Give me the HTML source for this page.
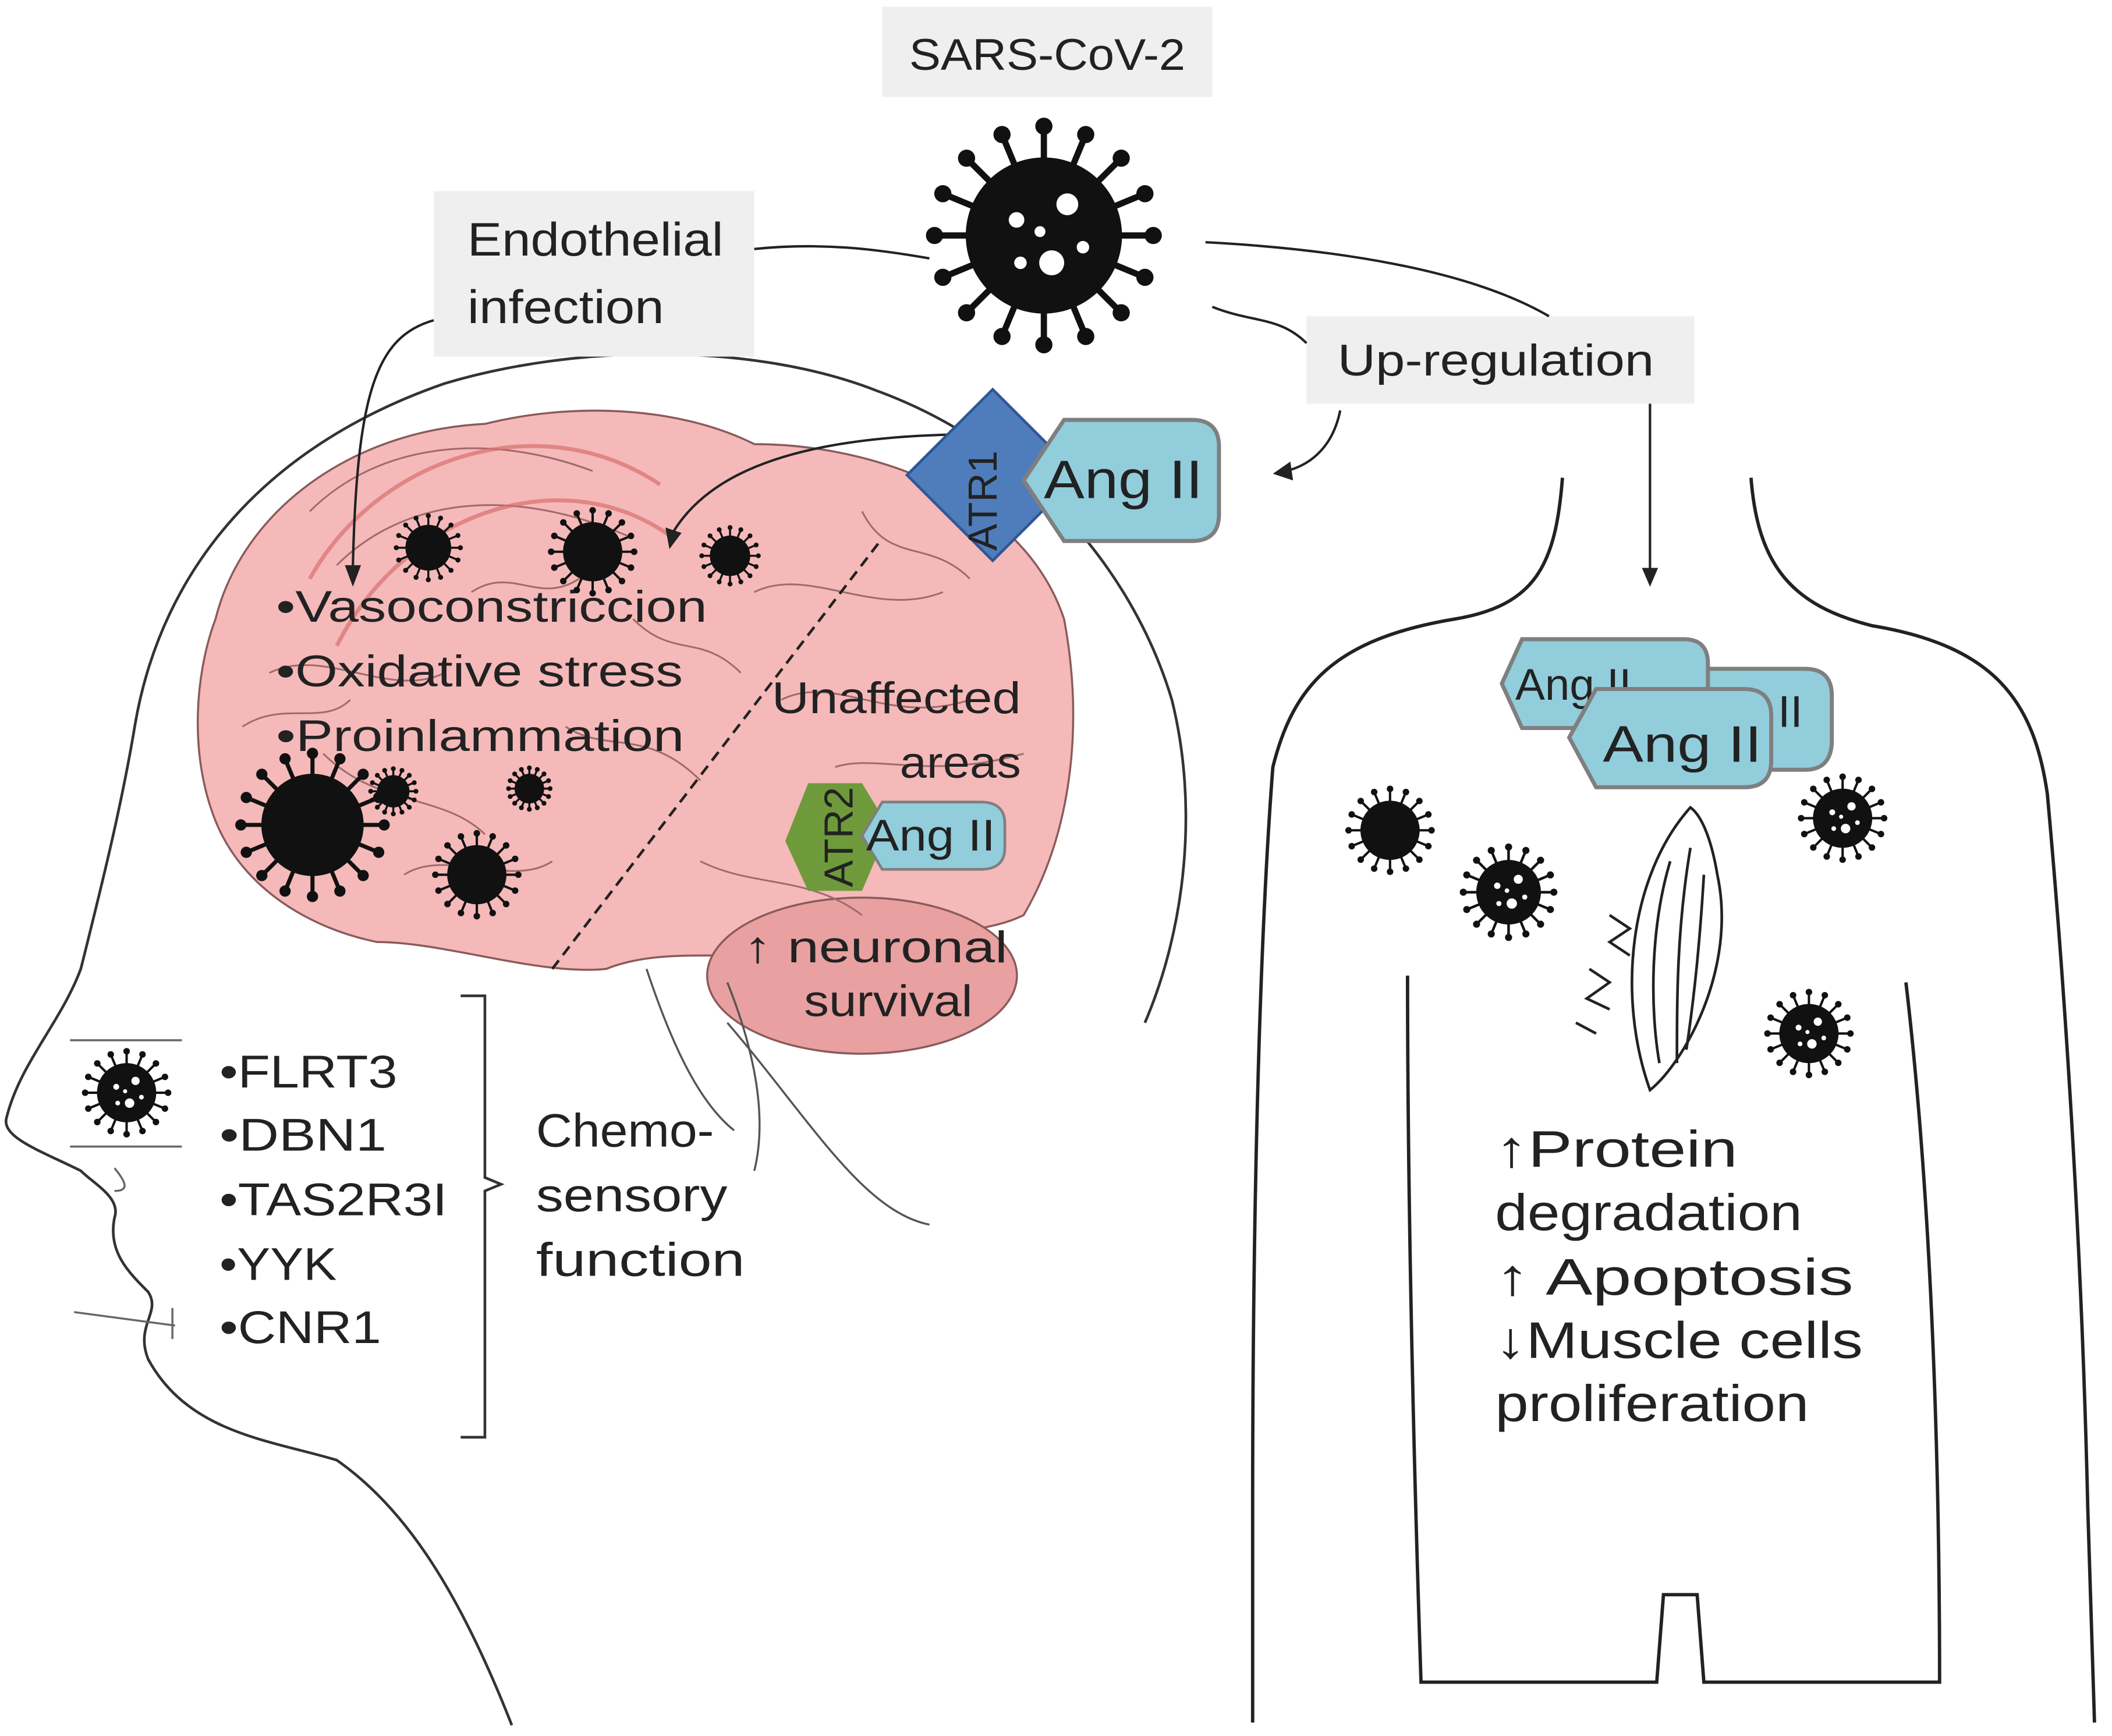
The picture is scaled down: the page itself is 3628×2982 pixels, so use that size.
<!DOCTYPE html>
<html><head><meta charset="utf-8">
<style>
html,body{margin:0;padding:0;background:#fff;}
svg{display:block;}
text{font-family:"Liberation Sans","DejaVu Sans",sans-serif;fill:#222;}
</style></head>
<body>
<svg id="fig" width="3628" height="2982" viewBox="0 0 1568 1290" preserveAspectRatio="none" xmlns="http://www.w3.org/2000/svg">
<rect width="1568" height="1290" fill="#fff"/>
<path d="M380,1282 C340,1180 300,1120 250,1085 C200,1070 140,1065 110,1010 C100,985 120,975 110,960 C95,945 80,930 85,905 C90,890 70,880 60,870 C30,855 0,845 5,830 C15,790 45,760 60,720 C75,660 90,600 100,540 C120,420 200,330 330,285 C430,255 560,255 650,290 C760,330 840,420 870,520 C890,600 880,690 850,760" fill="none" stroke="#333" stroke-width="2"/>
<path d="M540,760 C600,830 640,900 690,910 M480,720 C500,780 520,820 545,840" fill="none" stroke="#555" stroke-width="1.5"/>
<path d="M52,852 L135,852 M52,773 L135,773 M85,868 C95,880 95,885 85,885 M55,975 L130,985 M128,972 L128,995" fill="none" stroke="#666" stroke-width="1.5"/>
<path d="M160,460 C180,380 260,320 360,315 C420,300 500,300 560,330 C650,330 760,370 790,460 C805,540 795,620 760,680 C720,700 650,690 600,700 C560,720 500,700 450,720 C400,725 330,700 280,700 C230,690 180,660 160,610 C140,560 145,500 160,460Z" fill="#f5b9b9" stroke="#8a5a5a" stroke-width="1.5"/>
<ellipse cx="640" cy="725" rx="115" ry="58" fill="#e8a0a0" stroke="#8a5a5a" stroke-width="1.5"/>
<path d="M230,380 C280,330 360,320 440,350 M250,420 C300,370 380,360 470,400 M200,500 C240,480 290,520 330,500 M240,560 C280,600 330,590 360,620 M420,540 C450,560 480,540 520,580 M560,440 C600,420 650,460 700,440 M580,520 C620,500 660,540 720,520 M520,640 C560,660 600,650 640,680 M300,650 C330,630 380,660 410,640 M470,460 C500,490 520,470 550,500 M640,380 C660,420 690,400 720,430 M180,540 C210,520 240,540 260,520 M620,570 C650,560 690,580 760,560 M350,440 C380,420 400,450 430,430" fill="none" stroke="#a06a6a" stroke-width="1.3"/>
<path d="M230,430 C280,340 400,300 490,360 M250,480 C300,380 420,340 500,400" fill="none" stroke="#d9706f" stroke-width="3" opacity="0.7"/>
<line x1="410" y1="720" x2="655" y2="400" stroke="#222" stroke-width="2" stroke-dasharray="8,5"/>
<path d="M540,730 C560,780 570,830 560,870" fill="none" stroke="#555" stroke-width="1.5"/>
<rect x="655" y="5" width="245" height="67" fill="#efefef"/>
<text x="675" y="52" font-size="33" textLength="205" lengthAdjust="spacingAndGlyphs">SARS-CoV-2</text>
<rect x="322" y="142" width="238" height="123" fill="#efefef"/>
<text x="347" y="190" font-size="35" textLength="190" lengthAdjust="spacingAndGlyphs">Endothelial</text>
<text x="347" y="240" font-size="35" textLength="146" lengthAdjust="spacingAndGlyphs">infection</text>
<rect x="970" y="235" width="288" height="65" fill="#efefef"/>
<text x="993" y="279" font-size="33" textLength="235" lengthAdjust="spacingAndGlyphs">Up-regulation</text>
<g fill="none" stroke="#222" stroke-width="1.8">
<path d="M560,185 C610,180 650,185 690,192"/>
<path d="M322,238 C280,250 265,290 262,420"/>
<path d="M895,180 C990,185 1090,200 1150,235"/>
<path d="M900,228 C930,240 950,235 970,255"/>
<path d="M995,305 C990,330 975,345 955,350"/>
<path d="M770,323 C650,320 540,330 500,395"/>
<path d="M1225,300 L1225,425"/>
</g>
<g fill="#222">
<path d="M256,420 L268,420 L262,436Z"/>
<path d="M494,392 L506,396 L497,408Z"/>
<path d="M958,343 L960,357 L945,352Z"/>
<path d="M1219,422 L1231,422 L1225,436Z"/>
</g>
<rect x="692" y="308" width="90" height="90" transform="rotate(45 737 353)" fill="#4f7dbb" stroke="#2f5597" stroke-width="2"/>
<text x="748" y="372" font-size="30" transform="rotate(-90 748 372)" text-anchor="middle" dy="-8">ATR1</text>
<path d="M790,312 L885,312 Q905,312 905,332 L905,382 Q905,402 885,402 L790,402 L760,357Z" fill="#92cddc" stroke="#7f7f7f" stroke-width="3"/>
<text x="775" y="370" font-size="40" textLength="118" lengthAdjust="spacingAndGlyphs">Ang II</text>
<g font-size="33">
<text x="205" y="462" textLength="320" lengthAdjust="spacingAndGlyphs">•Vasoconstriccion</text>
<text x="205" y="510" textLength="302" lengthAdjust="spacingAndGlyphs">•Oxidative stress</text>
<text x="205" y="558" textLength="303" lengthAdjust="spacingAndGlyphs">•Proinlammation</text>
</g>
<text x="573" y="530" font-size="33" textLength="185" lengthAdjust="spacingAndGlyphs">Unaffected</text>
<text x="668" y="578" font-size="33" textLength="90" lengthAdjust="spacingAndGlyphs">areas</text>
<path d="M600,582 L640,582 L660,615 L640,662 L600,662 L583,625Z" fill="#6f9a3b"/>
<text x="633" y="622" font-size="30" transform="rotate(-90 633 622)" text-anchor="middle">ATR2</text>
<path d="M655,596 L728,596 Q746,596 746,612 L746,630 Q746,646 728,646 L655,646 L640,621Z" fill="#92cddc" stroke="#7f7f7f" stroke-width="2"/>
<text x="643" y="632" font-size="33" textLength="96" lengthAdjust="spacingAndGlyphs">Ang II</text>
<text x="552" y="715" font-size="33" textLength="196" lengthAdjust="spacingAndGlyphs">↑ neuronal</text>
<text x="597" y="755" font-size="33" textLength="125" lengthAdjust="spacingAndGlyphs">survival</text>
<g font-size="34">
<text x="163" y="808" textLength="132" lengthAdjust="spacingAndGlyphs">•FLRT3</text>
<text x="163" y="855" textLength="124" lengthAdjust="spacingAndGlyphs">•DBN1</text>
<text x="163" y="903" textLength="169" lengthAdjust="spacingAndGlyphs">•TAS2R3I</text>
<text x="163" y="951" textLength="87" lengthAdjust="spacingAndGlyphs">•YYK</text>
<text x="163" y="998" textLength="120" lengthAdjust="spacingAndGlyphs">•CNR1</text>
</g>
<path d="M342,740 L360,740 L360,875 L372,880 L360,885 L360,1068 L342,1068" fill="none" stroke="#333" stroke-width="2"/>
<g font-size="35">
<text x="398" y="852" textLength="132" lengthAdjust="spacingAndGlyphs">Chemo-</text>
<text x="398" y="900" textLength="142" lengthAdjust="spacingAndGlyphs">sensory</text>
<text x="398" y="948" textLength="155" lengthAdjust="spacingAndGlyphs">function</text>
</g>
<path d="M1160,355 C1155,420 1140,450 1080,460 C990,475 960,510 945,570 C935,700 930,900 930,1120 L930,1280 M1300,355 C1305,420 1330,450 1390,465 C1480,480 1510,520 1520,590 C1530,700 1545,900 1550,1120 L1555,1280 M1045,725 C1045,900 1050,1100 1055,1250 L1230,1250 L1235,1185 L1260,1185 L1265,1250 L1440,1250 C1440,1100 1435,900 1415,730" fill="none" stroke="#222" stroke-width="2.5"/>
<g>
<path d="M1210,497 L1340,497 Q1360,497 1360,517 L1360,550 Q1360,572 1340,572 L1210,572 L1195,535Z" fill="#92cddc" stroke="#7f7f7f" stroke-width="3"/>
<text x="1320" y="540" font-size="33">II</text>
<path d="M1130,475 L1250,475 Q1268,475 1268,493 L1268,523 Q1268,541 1250,541 L1130,541 L1115,508Z" fill="#92cddc" stroke="#7f7f7f" stroke-width="3"/>
<text x="1125" y="520" font-size="33">Ang II</text>
<path d="M1185,512 L1295,512 Q1315,512 1315,532 L1315,565 Q1315,585 1295,585 L1185,585 L1165,548Z" fill="#92cddc" stroke="#7f7f7f" stroke-width="3"/>
<text x="1190" y="566" font-size="38" textLength="118" lengthAdjust="spacingAndGlyphs">Ang II</text>
</g>
<g fill="none" stroke="#222" stroke-width="2">
<path d="M1255,600 C1210,650 1200,740 1225,810 C1250,790 1290,720 1275,650 C1270,620 1262,605 1255,600Z"/>
<path d="M1240,640 C1225,690 1225,750 1232,790 M1255,630 C1245,690 1245,740 1245,790 M1265,650 C1262,700 1258,740 1252,780"/>
<path d="M1195,680 L1210,690 L1195,700 L1210,710 M1180,720 L1195,730 L1178,742 L1195,750 M1170,760 L1185,768"/>
</g>
<g font-size="38">
<text x="1110" y="867" textLength="180" lengthAdjust="spacingAndGlyphs">↑Protein</text>
<text x="1110" y="914" textLength="228" lengthAdjust="spacingAndGlyphs">degradation</text>
<text x="1110" y="962" textLength="266" lengthAdjust="spacingAndGlyphs">↑ Apoptosis</text>
<text x="1110" y="1009" textLength="273" lengthAdjust="spacingAndGlyphs">↓Muscle cells</text>
<text x="1110" y="1056" textLength="233" lengthAdjust="spacingAndGlyphs">proliferation</text>
</g>
<g id="viruses"></g>
</svg>
<script>
const NS='http://www.w3.org/2000/svg';
const g=document.getElementById('viruses');
const viruses=[[775,175,58,1],[318,407,17,0],[440,410,22,0],[542,413,15,0],[232,613,38,0],[292,588,12,0],[393,586,11,0],[354,650,22,0],[94,812,22,1],[1032,617,22,0],[1120,663,24,1],[1368,608,22,1],[1343,768,22,1]];
viruses.forEach(v=>{
  const [cx,cy,r,d]=v;
  const grp=document.createElementNS(NS,'g');
  
  
  const n=16;
  for(let i=0;i<n;i++){
    const a=i/n*Math.PI*2;
    const l=document.createElementNS(NS,'line');
    l.setAttribute('x1',cx);l.setAttribute('y1',cy);
    l.setAttribute('x2',cx+Math.cos(a)*r*1.35);l.setAttribute('y2',cy+Math.sin(a)*r*1.35);
    l.setAttribute('stroke','#111');l.setAttribute('stroke-width',Math.max(1.5,r*0.08));
    grp.appendChild(l);
    const k=document.createElementNS(NS,'circle');
    k.setAttribute('cx',cx+Math.cos(a)*r*1.4);k.setAttribute('cy',cy+Math.sin(a)*r*1.4);
    k.setAttribute('r',Math.max(1.8,r*0.11));k.setAttribute('fill','#111');
    grp.appendChild(k);
  }
  const c=document.createElementNS(NS,'circle');
  c.setAttribute('cx',cx);c.setAttribute('cy',cy);c.setAttribute('r',r);c.setAttribute('fill','#111');
  grp.appendChild(c);
  if(d){
    [[0.3,-0.4,0.14],[-0.35,-0.2,0.1],[0.1,0.35,0.16],[-0.3,0.35,0.08],[0.5,0.15,0.08],[-0.05,-0.05,0.07]].forEach(p=>{
      const s=document.createElementNS(NS,'circle');
      s.setAttribute('cx',cx+p[0]*r);s.setAttribute('cy',cy+p[1]*r);s.setAttribute('r',p[2]*r);s.setAttribute('fill','#fff');
      grp.appendChild(s);
    });
  }
  g.appendChild(grp);
});
</script>
</body></html>
